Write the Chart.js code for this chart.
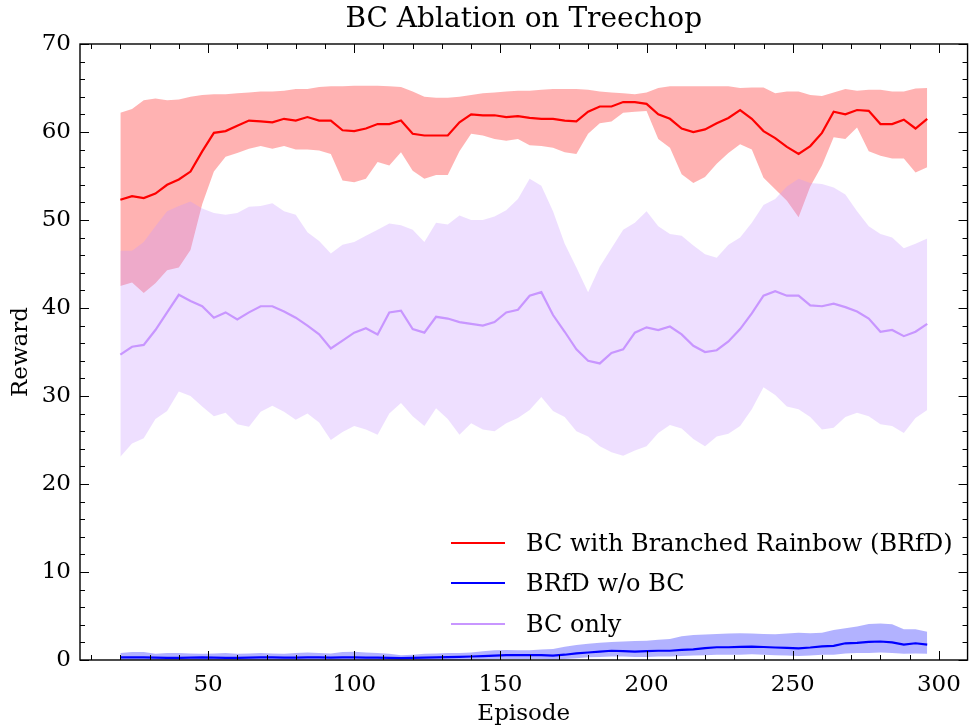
<!DOCTYPE html>
<html>
<head>
<meta charset="utf-8">
<script src="https://cdn.jsdelivr.net/npm/chart.js@4.4.0/dist/chart.umd.min.js"></script>
<style>
html,body{margin:0;padding:0;background:#fff;}
#wrap{position:relative;width:972px;height:728px;}
canvas{display:block;}
#legend{position:absolute;left:451px;top:523px;font-family:'DejaVu Serif',serif;font-size:24px;color:#000;}
.item{display:flex;align-items:center;height:40.3px;white-space:nowrap;}
.sw{width:54px;height:0;border-top:2px solid;margin-right:21px;}
</style>
</head>
<body>
<div id="wrap">
<canvas id="c" width="972" height="728"></canvas>
<div id="legend"></div>
</div>
<script>
// ---- data ----
const episodes = [20,24,28,32,36,40,44,48,52,56,60,64,68,72,76,80,
  84,88,92,96,100,104,108,112,116,120,124,128,132,136,140,144,148,152,156,
  160,164,168,172,176,180,184,188,192,196,200,204,208,212,216,220,224,228,232,
  236,240,244,248,252,256,260,264,268,272,276,280,284,288,292,296];

const seriesNames = ["BC with Branched Rainbow (BRfD)", "BRfD w/o BC", "BC only"];

const bcRainbowMean = [52.3,52.7,52.5,53.0,54.0,54.6,55.5,57.8,59.9,60.1,60.7,61.3,61.2,61.1,61.5,61.3,
  61.7,61.3,61.3,60.2,60.1,60.4,60.9,60.9,61.3,59.8,59.6,59.6,59.6,61.1,62.0,61.9,61.9,61.7,61.8,
  61.6,61.5,61.5,61.3,61.2,62.3,62.9,62.9,63.4,63.4,63.2,62.0,61.5,60.4,60.0,60.3,61.0,61.6,62.5,
  61.5,60.1,59.3,58.3,57.5,58.4,59.9,62.3,62.0,62.5,62.4,60.9,60.9,61.4,60.4,61.5];
const bcRainbowUpper = [62.2,62.6,63.6,63.8,63.6,63.7,64.0,64.2,64.3,64.3,64.4,64.5,64.6,64.6,64.7,64.9,
  64.9,65.1,65.2,65.2,65.25,65.25,65.25,65.2,65.1,64.6,64.0,63.9,63.9,64.0,64.2,64.4,64.5,64.6,64.7,
  64.7,64.8,64.9,64.9,64.9,64.8,64.6,64.5,64.4,64.3,64.5,65.0,65.2,65.2,65.2,65.2,65.2,65.2,65.0,
  65.07,65.07,64.4,64.6,64.6,64.2,64.1,64.5,64.9,64.7,64.8,64.8,64.6,64.6,64.95,65.0];
const bcRainbowLower = [42.5,42.9,41.7,42.8,44.3,44.6,46.6,51.8,55.5,57.2,57.6,58.1,58.4,58.1,58.4,58.0,
  58.0,57.9,57.5,54.5,54.3,54.7,56.6,56.2,57.7,55.6,54.7,55.1,55.1,57.8,59.8,59.6,59.2,59.0,59.2,
  58.5,58.4,58.2,57.7,57.5,59.8,61.0,61.2,62.2,62.3,62.4,59.2,58.2,55.2,54.2,54.9,56.4,57.6,58.6,
  58.0,54.8,53.5,52.2,50.3,53.8,56.2,59.4,59.2,60.5,57.8,57.3,57.0,57.0,55.4,56.0];

const noBcMean = [0.3,0.3,0.3,0.28,0.25,0.25,0.28,0.3,0.28,0.25,0.25,0.28,0.3,0.3,0.28,0.28,
  0.3,0.3,0.28,0.3,0.3,0.28,0.28,0.25,0.22,0.25,0.28,0.3,0.32,0.35,0.4,0.45,0.5,0.55,0.55,
  0.57,0.55,0.5,0.6,0.75,0.85,0.95,1.05,1.0,0.95,1.0,1.05,1.05,1.15,1.2,1.35,1.45,1.45,1.5,
  1.52,1.48,1.42,1.38,1.33,1.42,1.55,1.6,1.9,1.95,2.05,2.1,2.0,1.75,1.9,1.75];
const noBcUpper = [0.8,0.9,0.9,0.7,0.8,0.8,0.75,0.7,0.75,0.8,0.7,0.75,0.8,0.75,0.7,0.8,
  0.85,0.8,0.75,0.9,0.95,0.85,0.8,0.7,0.55,0.6,0.7,0.75,0.8,0.8,0.85,1.0,1.1,1.15,1.1,
  1.12,1.2,1.25,1.5,1.7,1.85,1.95,2.05,2.1,2.15,2.2,2.3,2.4,2.7,2.85,2.9,2.95,3.0,3.05,
  3.0,2.95,2.92,3.0,3.1,3.05,3.1,3.4,3.6,3.8,4.1,4.15,4.05,3.5,3.5,3.2];
const noBcLower = [0.0,0.0,0.0,0.0,0.0,0.0,0.0,0.0,0.0,0.0,0.0,0.0,0.0,0.0,0.0,0.0,
  0.0,0.0,0.0,0.0,0.0,0.0,0.0,0.0,0.0,0.0,0.0,0.0,0.0,0.0,0.02,0.05,0.08,0.1,0.1,
  0.1,0.1,0.05,0.1,0.2,0.3,0.35,0.4,0.4,0.35,0.35,0.4,0.4,0.45,0.5,0.55,0.6,0.6,0.6,
  0.65,0.6,0.55,0.5,0.45,0.5,0.6,0.6,0.75,0.8,0.8,0.85,0.8,0.7,0.75,0.7];

const bcOnlyMean = [34.7,35.6,35.8,37.5,39.5,41.5,40.8,40.2,38.9,39.5,38.7,39.5,40.2,40.2,39.6,38.9,
  38.0,37.0,35.4,36.3,37.2,37.7,37.0,39.5,39.7,37.6,37.2,39.0,38.8,38.4,38.2,38.0,38.4,39.5,39.8,
  41.4,41.8,39.2,37.3,35.3,34.0,33.7,34.9,35.3,37.2,37.8,37.5,37.9,37.0,35.7,35.0,35.2,36.2,37.6,
  39.4,41.4,41.9,41.4,41.4,40.3,40.2,40.5,40.1,39.6,38.8,37.3,37.5,36.8,37.3,38.2];
const bcOnlyUpper = [46.5,46.5,47.5,49.3,51.0,51.6,52.1,51.3,50.8,50.6,50.8,51.5,51.6,51.9,51.0,50.6,
  48.6,47.6,46.2,47.2,47.5,48.2,48.9,49.6,49.4,48.9,47.5,49.7,49.5,50.5,50.0,50.0,50.4,51.1,52.4,
  54.7,53.9,51.0,47.3,44.6,41.8,44.7,46.8,48.9,49.7,51.0,49.3,48.4,48.2,47.1,46.1,45.7,47.2,48.0,
  49.7,51.7,52.4,53.8,54.7,54.2,54.1,53.7,52.9,51.0,49.3,48.4,48.0,46.8,47.3,47.9];
const bcOnlyLower = [23.1,24.6,25.2,27.4,28.3,30.5,30.0,28.8,27.7,28.1,26.8,26.5,28.2,28.9,28.2,27.3,
  28.0,27.0,25.0,25.9,26.6,26.2,25.6,28.0,29.2,27.7,26.6,28.6,27.4,25.6,26.9,26.2,26.0,26.9,27.5,
  28.4,29.9,28.3,27.6,26.0,25.4,24.3,23.6,23.2,23.8,24.3,25.8,26.7,26.3,25.1,24.3,25.4,25.7,26.6,
  28.5,31.0,30.1,28.8,28.5,27.6,26.2,26.4,27.6,28.1,27.7,26.8,26.6,25.8,27.5,28.4];

const xTickLabels = [50,100,150,200,250,300];
const yTickLabels = [0,10,20,30,40,50,60,70];

// ---- styling ----
const FONT = "'DejaVu Serif', serif";
const RED = '#ff0000', BLUE = '#0000ff', PURPLE = '#c896ff';
const RED_FILL = 'rgba(255,0,0,0.3)', BLUE_FILL = 'rgba(0,0,255,0.3)', PURPLE_FILL = 'rgba(200,150,255,0.3)';

const pts = arr => episodes.map((e,i)=>({x:e, y:arr[i]}));
const band = (arr, fill, color, order) => ({data:pts(arr), borderWidth:0, pointRadius:0, fill:fill, backgroundColor:color, order:order, tension:0});
const meanLine = (label, arr, color) => ({label:label, data:pts(arr), borderColor:color, backgroundColor:color, borderWidth:2.2, pointRadius:0, fill:false, order:0, tension:0});

Chart.defaults.color = '#000';
Chart.defaults.font.family = FONT;

const framePlugin = {
  id:'frame',
  afterDatasetsDraw(chart){
    const {ctx, chartArea:a, scales:{x,y}} = chart;
    ctx.save();
    ctx.strokeStyle = '#000';
    ctx.lineWidth = 1;
    ctx.beginPath();
    for (let v = 10; v <= 300; v += 10){
      const px = Math.round(x.getPixelForValue(v)) + 0.5;
      const L = (v % 50 === 0) ? 9 : 5;
      ctx.moveTo(px, a.bottom); ctx.lineTo(px, a.bottom - L);
      ctx.moveTo(px, a.top); ctx.lineTo(px, a.top + L);
    }
    for (let v = 0; v <= 70; v += 2){
      const py = Math.round(y.getPixelForValue(v)) + 0.5;
      const L = (v % 10 === 0) ? 9 : 5;
      ctx.moveTo(a.left, py); ctx.lineTo(a.left + L, py);
      ctx.moveTo(a.right, py); ctx.lineTo(a.right - L, py);
    }
    ctx.stroke();
    ctx.lineWidth = 1.4;
    ctx.strokeRect(a.left, a.top, a.right - a.left, a.bottom - a.top);
    ctx.restore();
  }
};

new Chart(document.getElementById('c'), {
  type:'line',
  data:{
    datasets:[
      band(bcRainbowUpper, '+1', RED_FILL, 3),
      band(bcRainbowLower, false, RED_FILL, 3),
      band(noBcUpper, '+1', BLUE_FILL, 2),
      band(noBcLower, false, BLUE_FILL, 2),
      band(bcOnlyUpper, '+1', PURPLE_FILL, 1),
      band(bcOnlyLower, false, PURPLE_FILL, 1),
      meanLine(seriesNames[0], bcRainbowMean, RED),
      meanLine(seriesNames[1], noBcMean, BLUE),
      meanLine(seriesNames[2], bcOnlyMean, PURPLE)
    ]
  },
  options:{
    responsive:false,
    animation:false,
    devicePixelRatio:1,
    layout:{padding:{left:0,right:2,top:0,bottom:0}},
    plugins:{
      legend:{display:false},
      tooltip:{enabled:false},
      title:{display:true, fullSize:false, text:'BC Ablation on Treechop', color:'#000',
        font:{family:FONT, size:28, weight:'normal', lineHeight:1.2},
        padding:{top:3, bottom:7.4}}
    },
    scales:{
      x:{type:'linear', min:6.2, max:309.8,
        afterBuildTicks(s){ s.ticks = xTickLabels.map(v=>({value:v})); },
        afterFit(s){ s.height = 68; },
        grid:{display:false, drawTicks:false},
        border:{display:false},
        ticks:{padding:11, font:{family:FONT,size:23}, color:'#000', maxRotation:0, autoSkip:false},
        title:{display:true, text:'Episode', color:'#000', font:{family:FONT,size:23}, padding:{top:0,bottom:0}}
      },
      y:{type:'linear', min:0, max:70,
        afterBuildTicks(s){ s.ticks = yTickLabels.map(v=>({value:v})); },
        afterFit(s){ s.width = 80; },
        grid:{display:false, drawTicks:false},
        border:{display:false},
        ticks:{padding:9, font:{family:FONT,size:23}, color:'#000'},
        title:{display:true, text:'Reward', color:'#000', font:{family:FONT,size:23}, padding:{top:7,bottom:0}}
      }
    }
  },
  plugins:[framePlugin]
});

// HTML legend
const legendColors = [RED, BLUE, PURPLE];
const lg = document.getElementById('legend');
seriesNames.forEach((n,i)=>{
  const row = document.createElement('div'); row.className='item';
  const sw = document.createElement('span'); sw.className='sw'; sw.style.borderTopColor = legendColors[i];
  const tx = document.createElement('span'); tx.textContent = n;
  row.appendChild(sw); row.appendChild(tx); lg.appendChild(row);
});
</script>
</body>
</html>
